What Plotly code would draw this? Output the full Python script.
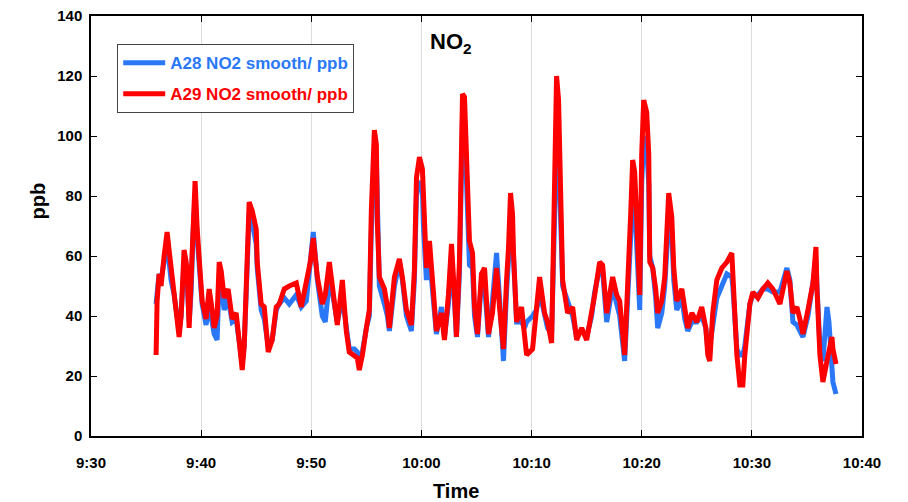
import plotly.graph_objects as go

# Time in minutes after 9:30
red_min = [5.91, 6.00, 6.18, 6.36, 6.64, 6.91, 7.09, 7.27, 7.55, 7.73, 8.00, 8.18, 8.45, 8.64, 8.73, 8.91, 9.09, 9.27, 9.45, 9.64,
           9.82, 10.09, 10.45, 10.73, 11.00, 11.18, 11.45, 11.64, 11.82, 12.09, 12.45, 12.82, 13.18, 13.45, 13.73, 13.91, 14.09, 14.36, 14.64, 15.00,
           15.09, 15.45, 15.73, 15.91, 16.09, 16.45, 16.82, 17.09, 17.55, 18.00, 18.64, 19.09, 19.55, 19.91, 20.18, 20.55, 21.00, 21.27, 21.64, 22.00,
           22.36, 22.82, 23.18, 23.45, 23.91, 24.18, 24.36, 24.64, 25.00, 25.27, 25.45, 25.73, 25.91, 26.00, 26.18, 26.64, 26.91, 27.09, 27.55, 28.00,
           28.27, 28.64, 29.09, 29.36, 29.55, 29.82, 30.09, 30.18, 30.45, 30.73, 31.00, 31.36, 31.82, 32.09, 32.45, 32.73, 33.00, 33.18, 33.45, 33.55,
           33.73, 33.91, 34.18, 34.36, 34.64, 34.82, 35.09, 35.45, 35.73, 35.91, 36.09, 36.45, 36.82, 37.09, 37.45, 37.73, 37.91, 38.09, 38.27, 38.36,
           38.55, 38.64, 39.09, 39.36, 39.55, 40.09, 40.45, 40.73, 41.18, 41.45, 41.82, 42.00, 42.27, 42.45, 42.64, 42.82, 43.27, 43.73, 44.09, 44.55,
           45.00, 45.45, 45.73, 46.18, 46.45, 46.82, 47.09, 47.36, 47.73, 48.00, 48.45, 48.73, 49.00, 49.18, 49.36, 49.55, 49.64, 49.82, 50.00, 50.18,
           50.45, 50.64, 50.73, 51.00, 51.27, 51.45, 51.82, 52.09, 52.45, 52.73, 52.91, 53.18, 53.64, 53.91, 54.18, 54.55, 55.00, 55.45, 55.82, 56.00,
           56.18, 56.45, 56.82, 57.27, 57.73, 58.18, 58.27, 58.64, 58.91, 59.18, 59.36, 59.82, 60.09, 60.55, 61.00, 61.45, 61.91, 62.55, 63.18, 63.45,
           63.73, 64.09, 64.36, 64.64, 65.09, 65.55, 65.82, 65.91, 66.18, 66.45, 66.82, 67.27, 67.36, 67.64]
red_ppb = [27, 45, 54, 50, 60, 68, 62, 56, 50, 43, 33, 40, 62, 58, 55, 36, 50, 72, 85, 69,
           58, 45, 39, 49, 42, 36, 40, 58, 55, 46, 49, 39, 41, 31, 22, 30, 52, 78, 75, 69,
           58, 44, 43, 35, 28, 32, 43, 44, 49, 50, 51, 43, 51, 58, 66, 53, 44, 47, 58, 48,
           37, 52, 35, 28, 27, 26, 22, 27, 36, 42, 75, 102, 97, 71, 53, 49, 43, 36, 53, 59,
           53, 42, 37, 55, 86, 93, 89, 77, 56, 65, 52, 35, 41, 32, 47, 64, 47, 33, 58, 75,
           114, 113, 83, 65, 61, 43, 34, 54, 56, 41, 34, 41, 56, 43, 29, 52, 63, 81, 74, 61,
           47, 38, 43, 32, 27, 29, 45, 53, 41, 38, 31, 74, 120, 112, 80, 52, 41, 43, 32, 36,
           32, 41, 47, 58, 57, 41, 48, 53, 47, 45, 27, 48, 74, 92, 88, 72, 58, 47, 94, 112,
           108, 94, 58, 56, 49, 41, 45, 53, 81, 73, 56, 45, 49, 41, 36, 41, 38, 43, 36, 27,
           25, 41, 52, 56, 58, 61, 54, 27, 17, 17, 27, 44, 48, 46, 49, 51, 49, 44, 55, 51,
           41, 43, 39, 34, 42, 51, 63, 49, 27, 18, 25, 33, 29, 24]

blue_min = [5.91, 6.00, 6.18, 6.36, 6.64, 6.91, 7.09, 7.27, 7.55, 7.73, 8.00, 8.18, 8.45, 8.64, 8.73, 8.91, 9.09, 9.27, 9.45, 9.64,
            9.82, 10.09, 10.45, 10.73, 11.00, 11.18, 11.45, 11.64, 11.82, 12.09, 12.45, 12.82, 13.18, 13.45, 13.73, 13.91, 14.09, 14.36, 14.64, 15.00,
            15.09, 15.45, 15.73, 15.91, 16.09, 16.45, 16.82, 17.09, 17.55, 18.00, 18.64, 19.09, 19.55, 19.91, 20.18, 20.55, 21.00, 21.27, 21.64, 22.00,
            22.36, 22.82, 23.18, 23.45, 23.91, 24.18, 24.36, 24.64, 25.00, 25.27, 25.45, 25.73, 25.91, 26.00, 26.18, 26.64, 26.91, 27.09, 27.55, 28.00,
            28.27, 28.64, 29.09, 29.36, 29.55, 29.82, 30.09, 30.18, 30.45, 30.73, 31.00, 31.36, 31.82, 32.09, 32.45, 32.73, 33.00, 33.18, 33.45, 33.55,
            33.73, 33.91, 34.18, 34.36, 34.64, 34.82, 35.09, 35.45, 35.73, 35.91, 36.09, 36.45, 36.82, 37.09, 37.45, 37.73, 37.91, 38.09, 38.27, 38.36,
            38.55, 38.64, 39.09, 39.36, 39.55, 40.09, 40.45, 40.73, 41.18, 41.45, 41.82, 42.00, 42.27, 42.45, 42.64, 42.82, 43.27, 43.73, 44.09, 44.55,
            45.00, 45.45, 45.73, 46.18, 46.45, 46.82, 47.09, 47.36, 47.73, 48.00, 48.45, 48.73, 49.00, 49.18, 49.36, 49.55, 49.64, 49.82, 50.00, 50.18,
            50.45, 50.64, 50.73, 51.00, 51.27, 51.45, 51.82, 52.09, 52.45, 52.73, 52.91, 53.18, 53.64, 53.91, 54.18, 54.55, 55.00, 55.45, 55.82, 56.00,
            56.18, 56.45, 56.82, 57.27, 57.73, 58.18, 58.27, 58.64, 58.91, 59.18, 59.36, 59.82, 60.09, 60.55, 61.00, 61.45, 61.91, 62.55, 63.18, 63.45,
            63.73, 64.09, 64.36, 64.64, 65.09, 65.55, 65.82, 65.91, 66.18, 66.45, 66.64, 66.82, 67.00, 67.18, 67.36, 67.64]
blue_ppb = [44, 48, 54, 52, 58, 64, 58, 52, 47, 42, 35, 40, 58, 55, 52, 38, 48, 68, 80, 66,
            56, 44, 37, 44, 38, 34, 32, 52, 50, 42, 46, 38, 39, 30, 24, 30, 50, 74, 71, 64,
            56, 42, 39, 33, 30, 32, 42, 44, 46, 44, 47, 43, 45, 58, 68, 52, 40, 38, 52, 46,
            38, 46, 35, 29, 29, 28, 25, 28, 36, 40, 68, 90, 92, 68, 50, 44, 40, 35, 50, 58,
            52, 40, 35, 52, 80, 85, 82, 70, 52, 60, 48, 34, 43, 33, 44, 58, 45, 33, 54, 70,
            106, 104, 78, 57, 56, 40, 33, 52, 50, 40, 33, 45, 61, 46, 25, 48, 58, 70, 66, 56,
            45, 38, 38, 36, 38, 40, 42, 48, 40, 36, 34, 66, 98, 96, 72, 50, 45, 40, 33, 35,
            33, 40, 48, 56, 55, 38, 44, 50, 44, 40, 25, 44, 68, 80, 78, 66, 56, 42, 84, 100,
            96, 84, 60, 56, 46, 36, 41, 50, 72, 68, 52, 42, 46, 39, 35, 38, 38, 40, 36, 29,
            30, 38, 46, 50, 54, 53, 50, 29, 27, 27, 30, 44, 47, 47, 49, 49, 48, 48, 56, 52,
            38, 37, 35, 33, 40, 50, 58, 50, 30, 25, 35, 43, 38, 27, 18, 14]

tick_min = [0, 10, 20, 30, 40, 50, 60, 70]
tick_labels = ["9:30", "9:40", "9:50", "10:00", "10:10", "10:20", "10:30", "10:40"]
y_ticks = [0, 20, 40, 60, 80, 100, 120, 140]

BLUE = "#2a78f7"
RED = "#ff0000"
FONT = "Liberation Sans, Arial, sans-serif"

fig = go.Figure()
fig.add_trace(go.Scatter(
    x=blue_min, y=blue_ppb, mode="lines", line=dict(color=BLUE, width=5),
    name=f"<b><span style='color:{BLUE}'>A28 NO2 smooth/ ppb</span></b>", legendgroup="a"))
fig.add_trace(go.Scatter(
    x=red_min, y=red_ppb, mode="lines", line=dict(color=RED, width=5),
    name=f"<b><span style='color:{RED}'>A29 NO2 smooth/ ppb</span></b>", legendgroup="b"))

axis_common = dict(showline=True, linecolor="black", linewidth=1.5, mirror="ticks",
                   ticks="inside", ticklen=6, tickcolor="black", tickwidth=1,
                   zeroline=False, automargin=False, ticklabeloverflow="allow",
                   tickfont=dict(family=FONT, size=15, color="black"))

fig.update_layout(
    width=900, height=495,
    margin=dict(l=83, r=46, t=8, b=67),
    plot_bgcolor="white", paper_bgcolor="white",
    font=dict(family=FONT, color="black"),
    xaxis=dict(range=[0, 70], tickvals=tick_min, ticktext=[f"<b>{t}</b>" for t in tick_labels],
               showgrid=True, gridcolor="#dddddd", gridwidth=1,
               ticklabelstandoff=12, **axis_common),
    yaxis=dict(range=[0, 140], tickvals=y_ticks, ticktext=[f"<b>{v}</b>" for v in y_ticks],
               showgrid=False, ticklabelstandoff=4, **axis_common),
    legend=dict(x=0.034, y=0.933, xanchor="left", yanchor="top",
                bgcolor="white", bordercolor="#444444", borderwidth=1,
                font=dict(family=FONT, size=17), itemwidth=42,
                traceorder="grouped", tracegroupgap=6),
    showlegend=True,
)

fig.add_annotation(x=(452 - 92) / 11, y=0.975, xref="x", yref="paper", showarrow=False,
                   text="<b>NO<sub>2</sub></b>", font=dict(family=FONT, size=22, color="black"))
fig.add_annotation(x=(457 - 92) / 771, y=-0.131, xref="paper", yref="paper", showarrow=False,
                   yanchor="middle", text="<b>Time</b>", font=dict(family=FONT, size=20, color="black"))
fig.add_annotation(x=-0.085, y=(435 - 200) / 420, xref="paper", yref="paper", showarrow=False,
                   textangle=-90, text="<b>ppb</b>", font=dict(family=FONT, size=20, color="black"))

fig.write_html("out.html")
